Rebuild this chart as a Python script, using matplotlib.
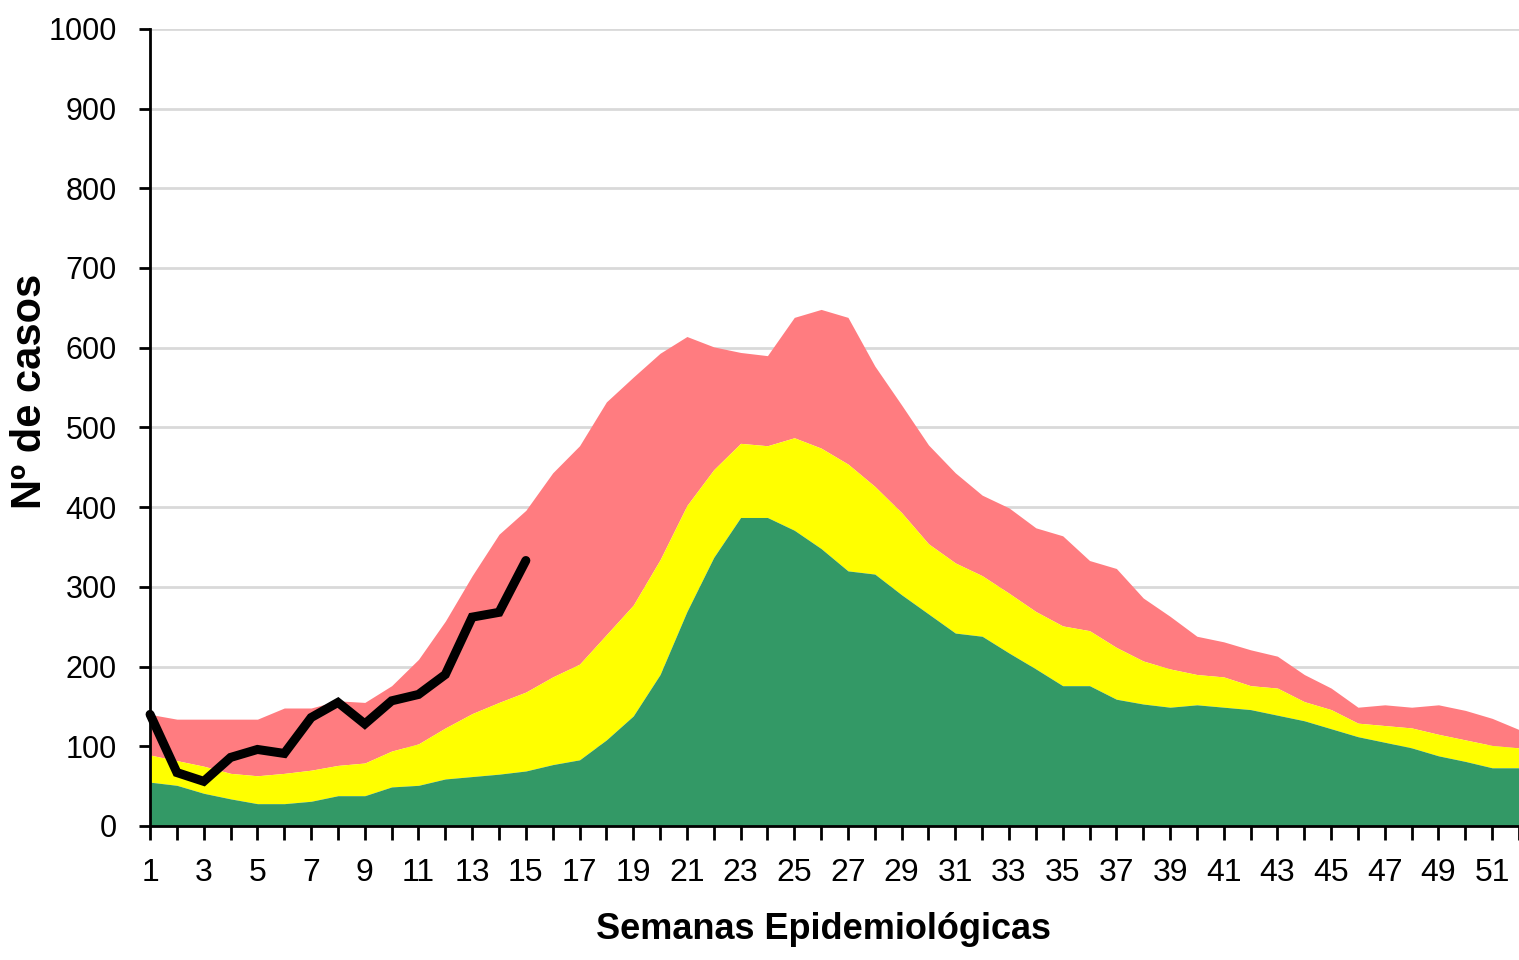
import matplotlib
matplotlib.use("Agg")
import matplotlib.pyplot as plt
import numpy as np

# semanas epidemiológicas 1..52
weeks = np.arange(1, 53)

# limite superior de cada faixa (valores acumulados)
zona_exito = [55, 51, 41, 34, 28, 28, 31, 38, 38, 49, 51, 59, 62, 65, 69, 77, 83, 108, 138, 190,
              269, 337, 387, 387, 371, 348, 320, 316, 290, 266, 242, 238, 217, 197, 176, 176, 159, 153, 149, 152,
              149, 146, 139, 132, 122, 112, 105, 98, 88, 81, 73, 73]
zona_seguranca = [89, 82, 75, 66, 63, 66, 70, 76, 79, 94, 103, 123, 141, 155, 168, 187, 203, 240, 277, 334,
                  402, 447, 480, 477, 487, 474, 454, 426, 393, 354, 330, 314, 292, 269, 251, 245, 224, 207, 197, 190,
                  187, 176, 173, 156, 146, 129, 126, 123, 115, 108, 101, 98]
zona_alerta = [140, 134, 134, 134, 134, 148, 148, 157, 155, 176, 209, 257, 314, 366, 396, 443, 477, 532, 563, 593,
               614, 601, 594, 590, 638, 648, 638, 577, 528, 478, 443, 415, 399, 374, 364, 333, 323, 286, 263, 238,
               231, 221, 213, 190, 173, 149, 152, 149, 152, 145, 135, 121]

# casos notificados no ano corrente
weeks_casos = np.arange(1, 16)
casos = [140, 67, 56, 86, 96, 91, 136, 155, 128, 157, 165, 190, 262, 268, 333]

font = ["Liberation Sans", "DejaVu Sans"]

fig = plt.figure(figsize=(15.19, 9.6), dpi=100)
ax = fig.add_axes([0.0988, 0.1396, 0.9012, 0.8304])

ax.fill_between(weeks, zona_seguranca, zona_alerta, color="#FF7C80", linewidth=0, zorder=2)
ax.fill_between(weeks, zona_exito, zona_seguranca, color="#FFFF00", linewidth=0, zorder=2)
ax.fill_between(weeks, 0, zona_exito, color="#339966", linewidth=0, zorder=2)
ax.plot(weeks_casos, casos, color="black", linewidth=6.5, solid_joinstyle="miter",
        solid_capstyle="round", zorder=4, clip_on=False)

ax.set_xlim(1, 51.5)
ax.set_ylim(0, 1000)

ax.set_yticks(np.arange(0, 1001, 100))
ax.set_yticklabels([str(v) for v in range(0, 1001, 100)], fontfamily=font, fontsize=22)
ax.set_xticks(weeks)
ax.set_xticklabels([str(w) if w % 2 == 1 else "" for w in weeks], fontfamily=font, fontsize=23)

ax.tick_params(axis="y", length=8, width=2, pad=16)
ax.tick_params(axis="x", length=10, width=2, pad=13)

ax.grid(axis="y", color="#d9d9d9", linewidth=2, zorder=0)
ax.set_axisbelow(True)

for side in ["top", "right"]:
    ax.spines[side].set_visible(False)
for side in ["left", "bottom"]:
    ax.spines[side].set_linewidth(2)
    ax.spines[side].set_zorder(5)

ax.set_xlabel("Semanas Epidemiológicas", fontfamily=font, fontweight="bold", fontsize=26)
ax.set_ylabel("Nº de casos", fontfamily=font, fontweight="bold", fontsize=30)
ax.xaxis.set_label_coords(0.492, -0.108)
ax.yaxis.set_label_coords(-0.073, 0.545)

fig.savefig("out.png", dpi=100)
